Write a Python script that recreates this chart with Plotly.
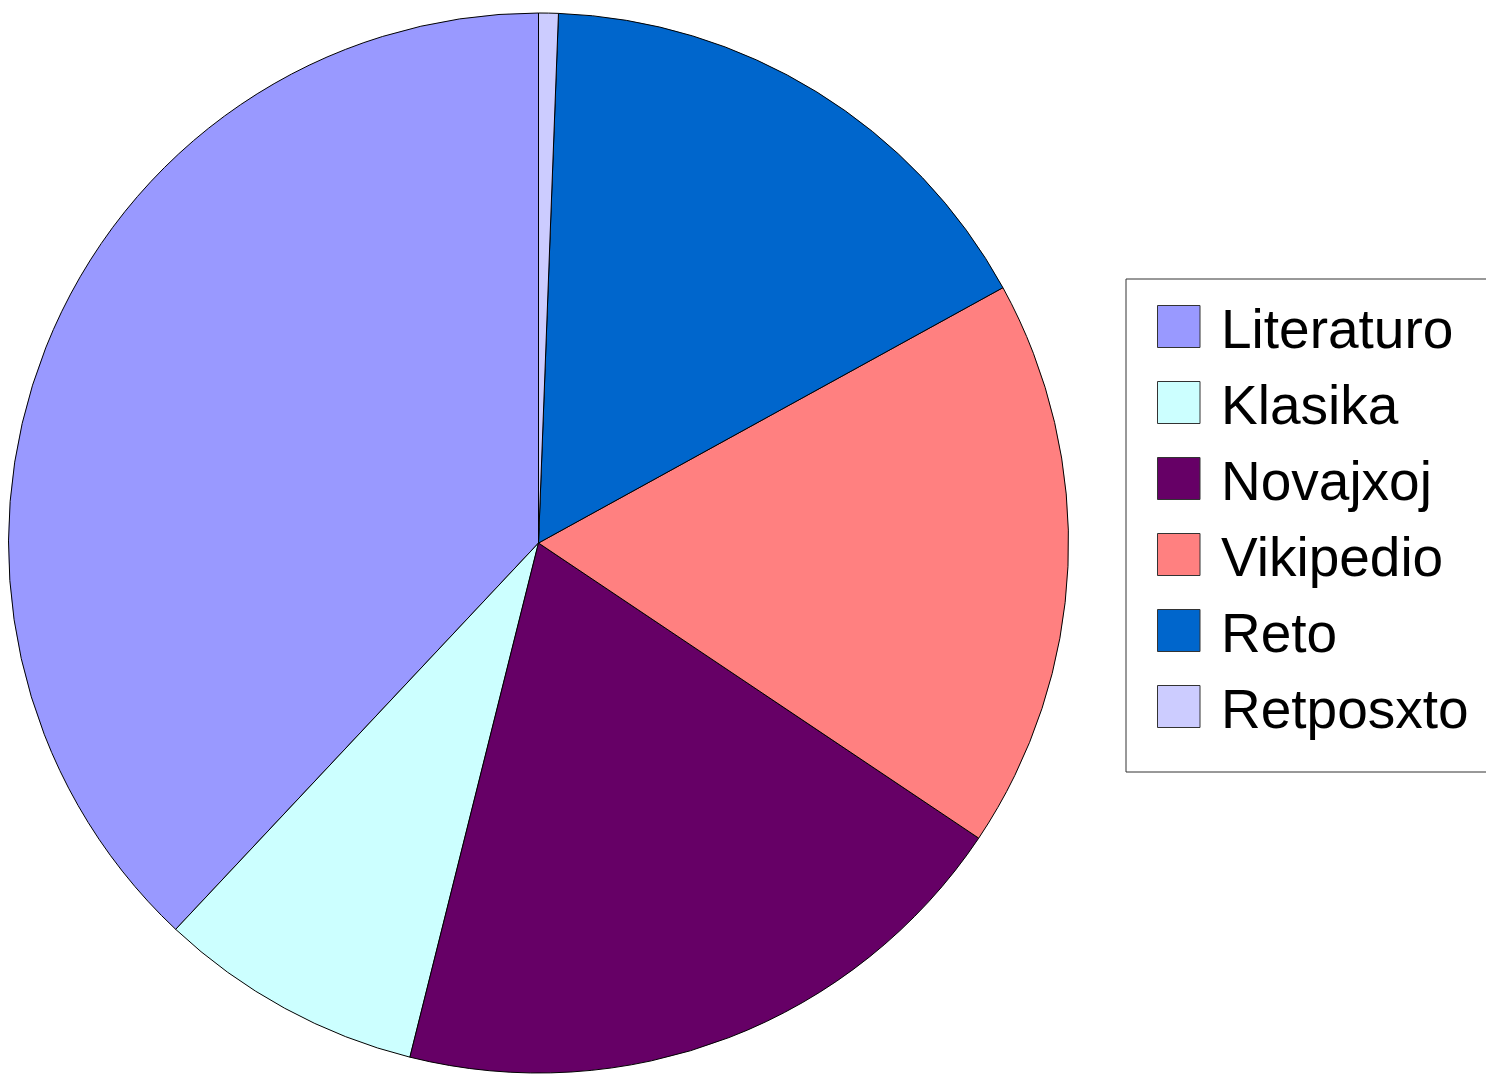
import plotly.graph_objects as go

labels = ["Literaturo", "Klasika", "Novajxoj", "Vikipedio", "Reto", "Retposxto"]
values = [38.0, 8.1, 19.5, 17.4, 16.4, 0.6]
colors = ["#9999FF", "#CCFFFF", "#660066", "#FF8080", "#0066CC", "#CCCCFF"]

W, H = 1494, 1077
OFF = 8  # page body margin offset

def px(x):
    return (x - OFF) / W

def py(y):
    return 1 - (y - OFF) / H

# plotly's counterclockwise mode ends the first slice at `rotation`;
# shift so the first slice starts at 12 o'clock and runs counterclockwise
rot = -values[0] / sum(values) * 360

fig = go.Figure()
fig.add_trace(go.Pie(
    labels=labels, values=values, sort=False, direction="counterclockwise",
    rotation=rot, textinfo="none", showlegend=False,
    marker=dict(colors=colors, line=dict(color="#000000", width=1)),
    domain=dict(x=[px(8.5), px(1068.5)], y=[py(1073), py(13)]),
))

shapes = []
annotations = []
# legend frame
shapes.append(dict(type="rect", xref="paper", yref="paper",
                   x0=px(1126), x1=px(1520), y0=py(772), y1=py(279),
                   line=dict(color="#333333", width=1), fillcolor="rgba(0,0,0,0)"))
for i, (lab, col) in enumerate(zip(labels, colors)):
    cy = 326.5 + 76 * i
    shapes.append(dict(type="rect", xref="paper", yref="paper",
                       x0=px(1157.5), x1=px(1200), y0=py(cy + 21), y1=py(cy - 21),
                       line=dict(color="#333333", width=1), fillcolor=col))
    annotations.append(dict(text=lab, xref="paper", yref="paper",
                            x=px(1219), y=py(cy + 2), xanchor="left", yanchor="middle",
                            showarrow=False,
                            font=dict(family="Liberation Sans, Arial", size=55, color="#000000")))

fig.update_layout(width=W, height=H, margin=dict(l=0, r=0, t=0, b=0),
                  paper_bgcolor="#FFFFFF", plot_bgcolor="#FFFFFF",
                  shapes=shapes, annotations=annotations)

fig.write_html("out.html")
